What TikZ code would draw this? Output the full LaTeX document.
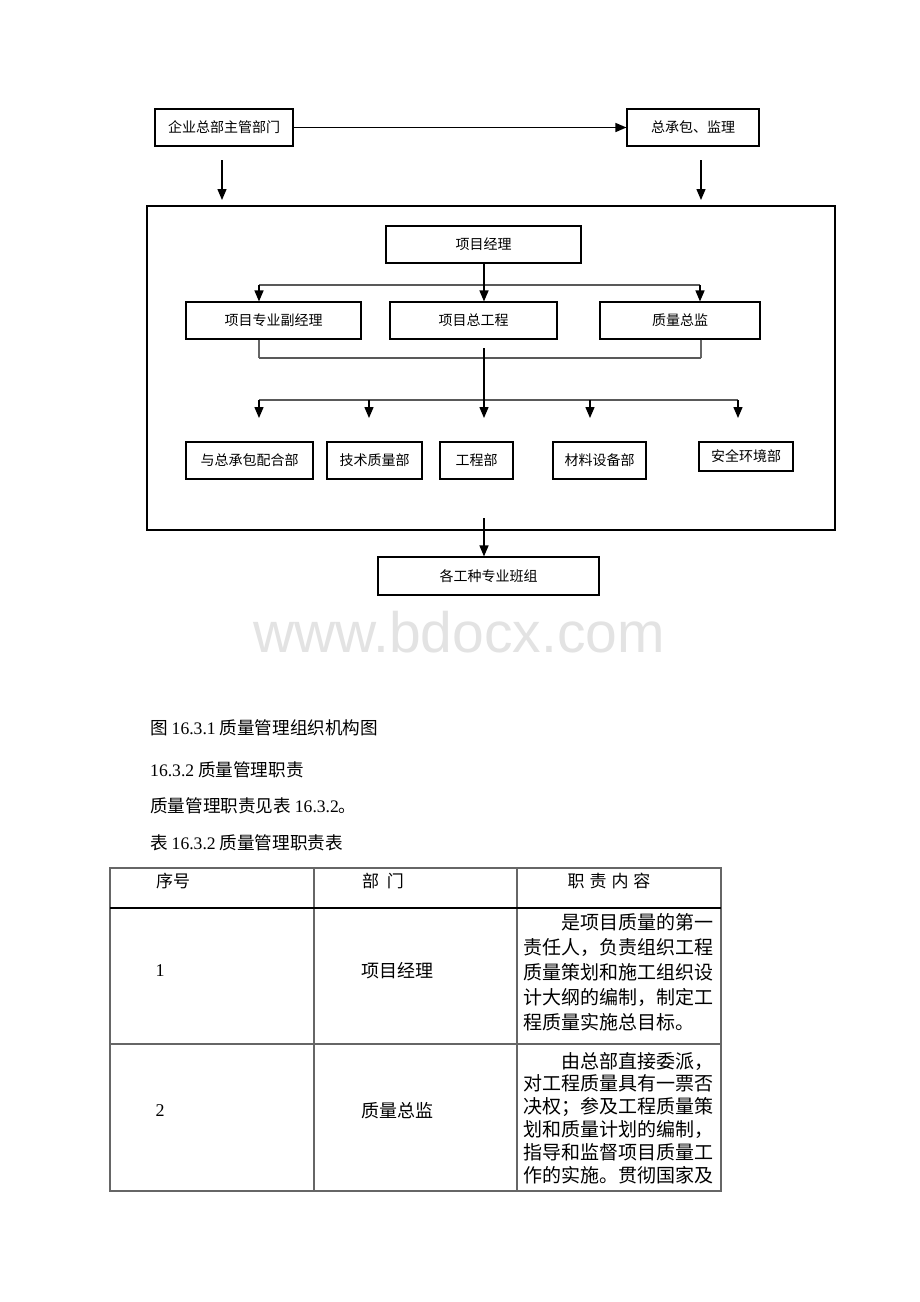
\documentclass[tikz,border=0pt]{standalone}
\usepackage{fontspec}
\setmainfont{Noto Sans CJK SC}
\newfontfamily\lat{Liberation Serif}
\newfontfamily\wmfont{Liberation Sans}
\usetikzlibrary{arrows.meta,calc}
\begin{document}
\begin{tikzpicture}[x=1pt,y=-1pt,
 bx/.style={draw, line width=1.1pt, inner sep=0pt, font=\fontsize{14}{16}\selectfont},
 arr/.style={-{Triangle[length=11pt,width=9pt]}, line width=1.4pt},
 bar/.style={draw=black!65, line width=1.4pt},
 tl/.style={draw=black!60, line width=1.2pt},
 body/.style={anchor=base west, inner sep=0pt, font=\fontsize{17.6}{20}\selectfont},
 hd/.style={anchor=base, inner sep=0pt, font=\fontsize{17}{20}\selectfont},
 cell/.style={anchor=base west, inner sep=0pt, font=\fontsize{19}{25}\selectfont},
]
\useasboundingbox (0,0) rectangle (920,1302);
\fill[white] (0,0) rectangle (920,1302);

% top row
\node[bx, minimum width=138pt, minimum height=37pt] (hq) at (224,127.5) {企业总部主管部门};
\node[bx, minimum width=132pt, minimum height=37pt] (gc) at (693,127.5) {总承包、监理};
\draw[arr] (hq.east) -- (gc.west);

% frame
\node[draw, line width=1.2pt, inner sep=0pt, minimum width=688pt, minimum height=324pt] (frame) at (491,368) {};

\coordinate (a1s) at (222,160);
\coordinate (a1e) at (222,200);
\coordinate (a2s) at (701,160);
\coordinate (a2e) at (701,200);
\draw[arr] (a1s) -- (a1e);
\draw[arr] (a2s) -- (a2e);

% project manager
\node[bx, minimum width=195pt, minimum height=37pt] (pm) at (483.5,244.5) {项目经理};

% second row
\node[bx, minimum width=175pt, minimum height=37pt] (dpm) at (273.5,320.5) {项目专业副经理};
\node[bx, minimum width=167pt, minimum height=37pt] (ce) at (473.5,320.5) {项目总工程};
\node[bx, minimum width=160pt, minimum height=37pt] (qd) at (680,320.5) {质量总监};

\coordinate (l1) at (259,285);
\coordinate (r1) at (700,285);
\draw[bar] (l1) -- (r1);
\draw[arr] (pm.south -| 484,0) -- (484,0 |- ce.north);
\draw[arr] (l1) -- (l1 |- dpm.north);
\draw[arr] (r1) -- (r1 |- qd.north);

% collecting bar
\coordinate (l2) at (259,358);
\coordinate (r2) at (701,358);
\draw[tl] (dpm.south -| l2) -- (l2);
\draw[tl] (qd.south -| r2) -- (r2);
\draw[bar] (l2) -- (r2);

% third row
\node[bx, minimum width=127pt, minimum height=37pt] (ab) at (249.5,460.5) {与总承包配合部};
\node[bx, minimum width=95pt, minimum height=37pt] (tq) at (374.5,460.5) {技术质量部};
\node[bx, minimum width=73pt, minimum height=37pt] (eng) at (476.5,460.5) {工程部};
\node[bx, minimum width=93pt, minimum height=37pt] (mat) at (599.5,460.5) {材料设备部};
\node[bx, minimum width=94pt, minimum height=29pt] (saf) at (746,456.5) {安全环境部};

\coordinate (c2s) at (484,348);
\coordinate (b3l) at (259,400);
\coordinate (b3b) at (369,400);
\coordinate (b3d) at (590,400);
\coordinate (b3r) at (738,400);
\draw[bar] (b3l) -- (b3r);
\draw[arr] (c2s) -- (484,418);
\draw[arr] (b3l) -- (259,418);
\draw[arr] (b3b) -- (369,418);
\draw[arr] (b3d) -- (590,418);
\draw[arr] (b3r) -- (738,418);

% teams
\node[bx, minimum width=221pt, minimum height=38pt] (teams) at (488.5,576) {各工种专业班组};
\coordinate (t0) at (484,518);
\draw[arr] (t0) -- (t0 |- teams.north);

% watermark
\node[anchor=base, inner sep=0pt, text=black!11, font=\wmfont\fontsize{57}{60}\selectfont] (wm) at (459,652) {www.bdocx.com};

% body text
\node[body] (cap) at (150,734) {图 {\lat 16.3.1} 质量管理组织机构图};
\node[body] (sec) at (150,776) {{\lat 16.3.2} 质量管理职责};
\node[body] (ref) at (150,812) {质量管理职责见表 {\lat 16.3.2}。};
\node[body] (tcap) at (150,849) {表 {\lat 16.3.2} 质量管理职责表};

% table
\draw[tl] (110,868) rectangle (721,1191);
\draw[tl] (314,868) -- (314,1191);
\draw[tl] (517,868) -- (517,1191);
\draw[draw=black, line width=1.1pt] (110,908) -- (721,908);
\draw[tl] (110,1044) -- (721,1044);

\node[hd] (h1) at (173,887) {序号};
\node[hd] (h2) at (383,887) {部\hspace{8pt}门};
\node[hd] (h3) at (609,887) {职\hspace{5pt}责\hspace{5pt}内\hspace{5pt}容};

\node[anchor=base, inner sep=0pt, font=\lat\fontsize{18}{20}\selectfont] (n1) at (160,976) {1};
\node[anchor=base, inner sep=0pt, font=\fontsize{18}{20}\selectfont] (d1) at (397,977) {项目经理};
\node[anchor=base, inner sep=0pt, font=\lat\fontsize{18}{20}\selectfont] (n2) at (160,1116) {2};
\node[anchor=base, inner sep=0pt, font=\fontsize{18}{20}\selectfont] (d2) at (397,1117) {质量总监};

\node[cell] (c1a) at (561,929) {是项目质量的第一};
\foreach \t [count=\i from 1] in {{责任人，负责组织工程},{质量策划和施工组织设},{计大纲的编制，制定工},{程质量实施总目标。}}
  \node[cell] (c1l\i) at (523,{929+25*\i}) {\t};

\node[cell] (c2a) at (561,1068) {由总部直接委派，};
\foreach \t [count=\i from 1] in {{对工程质量具有一票否},{决权；参及工程质量策},{划和质量计划的编制，},{指导和监督项目质量工},{作的实施。贯彻国家及}}
  \node[cell] (c2l\i) at (523,{1068+22.8*\i}) {\t};
\end{tikzpicture}
\end{document}
